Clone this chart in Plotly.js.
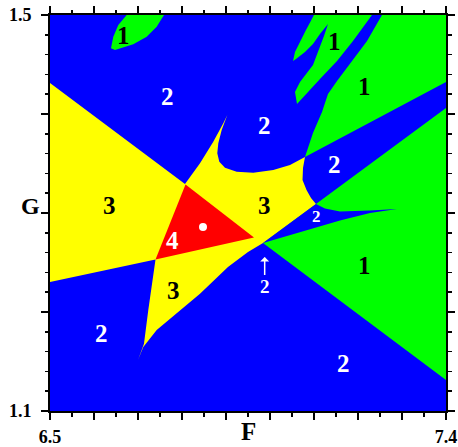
<!DOCTYPE html>
<html>
<head>
<meta charset="utf-8">
<script src="https://cdn.plot.ly/plotly-3.0.1.min.js"></script>
<style>html,body{margin:0;padding:0;background:#fff;}#chart{width:458px;height:447px;}</style>
</head>
<body>
<div id="chart"></div>
<script>
// ---- axis ranges and tick labels ----
const fRange = [6.5, 7.4];
const gRange = [1.1, 1.5];
const xTickVals = [6.5, 6.6, 6.7, 6.8, 6.9, 7.0, 7.1, 7.2, 7.3, 7.4];
const xTickText = ['6.5', '', '', '', '', '', '', '', '', '7.4'];
const yTickVals = [1.1, 1.2, 1.3, 1.4, 1.5];
const yTickText = ['1.1', '', '', '', '1.5'];
const xName = 'F';
const yName = 'G';

// ---- region boundaries (F, G) ----
const yellowF = [6.5, 6.8068, 6.8409, 6.8711, 6.8939, 6.9030, 6.8902, 6.8825, 6.8802, 6.8848, 6.8977, 6.9243, 6.9620, 7.0075, 7.0455, 7.0795, 7.0750, 7.0739, 7.0830, 7.0932, 7.1045, 6.9841, 6.9500, 6.9045, 6.8409, 6.7880, 6.7425, 6.7120, 6.7000, 6.7136, 6.7234, 6.7311, 6.7398, 6.5];
const yellowG = [1.4313, 1.3293, 1.3502, 1.3720, 1.3906, 1.3990, 1.3838, 1.3704, 1.3603, 1.3518, 1.3458, 1.3417, 1.3407, 1.3434, 1.3485, 1.3566, 1.3455, 1.3333, 1.3232, 1.3152, 1.3091, 1.2697, 1.2606, 1.2455, 1.2185, 1.1983, 1.1818, 1.1646, 1.1515, 1.1680, 1.2020, 1.2286, 1.2530, 1.2303];

const redF = [6.8080, 6.9636, 6.7398];
const redG = [1.3288, 1.2753, 1.2530];

const greenBlobF = [6.6743, 6.6552, 6.6439, 6.6386, 6.6477, 6.6893, 6.7198, 6.7425, 6.7591];
const greenBlobG = [1.5, 1.4899, 1.4781, 1.4664, 1.4646, 1.4704, 1.4781, 1.4882, 1.5];

const greenFingerF = [7.1000, 7.2318, 7.1886, 7.1523, 7.1136, 7.0909, 7.0750, 7.0614, 7.0568, 7.0682, 7.0977, 7.1136, 7.1227, 7.1318, 7.1136, 7.0977, 7.0795, 7.0591, 7.0523, 7.0568, 7.0682, 7.0818];
const greenFingerG = [1.5, 1.5, 1.4737, 1.4535, 1.4354, 1.4242, 1.4172, 1.4101, 1.4222, 1.4323, 1.4495, 1.4677, 1.4788, 1.4909, 1.4808, 1.4707, 1.4626, 1.4556, 1.4535, 1.4626, 1.4727, 1.4848];

const greenUpperF = [7.0795, 7.0864, 7.0977, 7.1182, 7.1318, 7.1523, 7.1818, 7.2205, 7.2545, 7.4, 7.4];
const greenUpperG = [1.3566, 1.3667, 1.3808, 1.4020, 1.4202, 1.4333, 1.4505, 1.4737, 1.5, 1.5, 1.4323];

const greenLowerF = [7.1045, 7.4, 7.4, 6.9841];
const greenLowerG = [1.3091, 1.4061, 1.1313, 1.2697];

const blueWedgeF = [6.9841, 7.0682, 7.1591, 7.2273, 7.2886, 7.2273, 7.1591, 7.1250, 7.1045];
const blueWedgeG = [1.2697, 1.2808, 1.2924, 1.3000, 1.3040, 1.3025, 1.3015, 1.3045, 1.3091];

// ---- region number labels ----
const regionLabels = ['1', '2', '3', '4', '3', '2', '1', '1', '2', '3', '2', '1', '2'];
const regionF = [6.6659, 6.7659, 6.6341, 6.7795, 6.9864, 6.9864, 7.1470, 7.2152, 7.1470, 6.7802, 6.6175, 7.2152, 7.1659];
const regionG = [1.4798, 1.4172, 1.3071, 1.2727, 1.3071, 1.3879, 1.4730, 1.4276, 1.3485, 1.2219, 1.1781, 1.2472, 1.1478];
const smallLabel = ['2'];
const smallLabelF = [7.1052];
const smallLabelG = [1.2963];
const arrowLabel = ['2'];
const arrowLabelF = [6.9879];
const arrowLabelG = [1.2253];
const arrowTipG = [1.2556];
const pointF = [6.8477];
const pointG = [1.2859];

const BLUE = '#0000ff', GREEN = '#00ff00', YELLOW = '#ffff00', RED = '#ff0000';
const SERIF = 'Liberation Serif, Times New Roman, serif';

function poly(xs, ys, color) {
  return {x: xs, y: ys, type: 'scatter', mode: 'lines', fill: 'toself',
          fillcolor: color, line: {width: 0, color: color}, hoverinfo: 'skip', showlegend: false};
}

const traces = [
  poly(greenBlobF, greenBlobG, GREEN),
  poly(greenFingerF, greenFingerG, GREEN),
  poly(greenUpperF, greenUpperG, GREEN),
  poly(greenLowerF, greenLowerG, GREEN),
  poly(yellowF, yellowG, YELLOW),
  poly(redF, redG, RED),
  poly(blueWedgeF, blueWedgeG, BLUE),
  {x: pointF, y: pointG, type: 'scatter', mode: 'markers',
   marker: {color: 'white', size: 8}, hoverinfo: 'skip', showlegend: false}
];

const darkOn = {'1': 'black', '3': 'black', '2': 'white', '4': 'white'};
const annotations = [];
regionLabels.forEach((t, i) => {
  annotations.push({x: regionF[i], y: regionG[i], xref: 'x', yref: 'y', text: '<b>' + t + '</b>',
    showarrow: false, font: {family: SERIF, size: 25, color: darkOn[t]}});
});
smallLabel.forEach((t, i) => {
  annotations.push({x: smallLabelF[i], y: smallLabelG[i], xref: 'x', yref: 'y', text: '<b>' + t + '</b>',
    showarrow: false, font: {family: SERIF, size: 17, color: darkOn[t]}});
});
arrowLabel.forEach((t, i) => {
  annotations.push({x: arrowLabelF[i], y: arrowTipG[i], ax: arrowLabelF[i], ay: arrowLabelG[i],
    xref: 'x', yref: 'y', axref: 'x', ayref: 'y', text: '<b>' + t + '</b>',
    showarrow: true, arrowhead: 1, arrowsize: 1, arrowwidth: 1.5, arrowcolor: 'white',
    font: {family: SERIF, size: 19, color: 'white'}});
});
annotations.push({xref: 'paper', yref: 'paper', x: 0.5, y: -0.052, xanchor: 'center', yanchor: 'middle',
  text: '<b>' + xName + '</b>', showarrow: false, font: {family: SERIF, size: 25, color: 'black'}});
annotations.push({xref: 'paper', yref: 'paper', x: -0.0505, y: 0.518, xanchor: 'center', yanchor: 'middle',
  text: '<b>' + yName + '</b>', showarrow: false, font: {family: SERIF, size: 24, color: 'black'}});

const axisCommon = {
  ticks: 'outside', ticklen: 7, tickwidth: 1.5, tickcolor: 'black',
  showline: true, linecolor: 'black', linewidth: 2, mirror: 'allticks',
  showgrid: false, zeroline: false, fixedrange: true,
  tickfont: {family: SERIF, size: 18, color: 'black', weight: 'bold'}
};

const layout = {
  width: 458, height: 447,
  margin: {l: 50, r: 12, t: 15, b: 36},
  paper_bgcolor: 'white', plot_bgcolor: BLUE,
  showlegend: false,
  xaxis: Object.assign({}, axisCommon, {range: fRange, tickmode: 'array', tickvals: xTickVals, ticktext: xTickText,
    ticklabelstandoff: 1,
    minor: {tick0: 6.5, dtick: 0.05, ticks: 'outside', ticklen: 3.5, tickwidth: 1.5, tickcolor: 'black', showgrid: false}}),
  yaxis: Object.assign({}, axisCommon, {range: gRange, tickmode: 'array', tickvals: yTickVals, ticktext: yTickText,
    ticklabelstandoff: 6,
    minor: {tick0: 1.1, dtick: 0.02, ticks: 'outside', ticklen: 3.5, tickwidth: 1.5, tickcolor: 'black', showgrid: false}}),
  annotations: annotations
};

Plotly.newPlot('chart', traces, layout, {displayModeBar: false, staticPlot: true});
</script>
</body>
</html>
